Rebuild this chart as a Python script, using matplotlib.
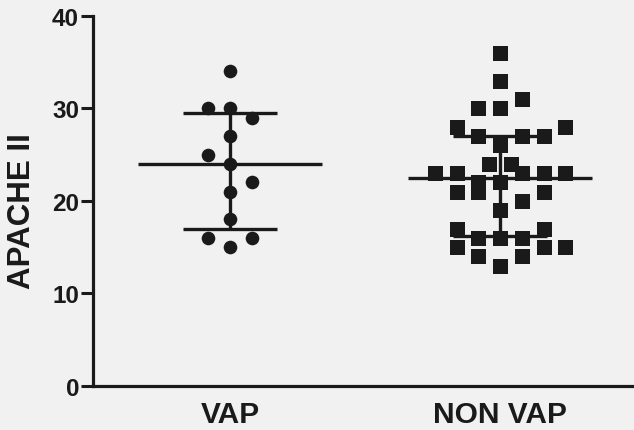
import matplotlib
matplotlib.use('Agg')
import matplotlib.pyplot as plt
import numpy as np
from matplotlib import font_manager

# values
groups = ['VAP', 'NON VAP']
vap = [34, 30, 30, 29, 27, 25, 24, 22, 21, 18, 16, 16, 15]
vap_col = [0, -1, 0, 1, 0, -1, 0, 1, 0, 0, -1, 1, 0]
nonvap = [36, 33, 31, 30, 30, 28, 28, 27, 27, 27, 26, 24, 24,
          23, 23, 23, 23, 23, 22, 22, 21, 21, 21, 20, 19, 17, 17,
          16, 16, 16, 15, 15, 15, 14, 14, 13]
nonvap_col = [0, 0, 1, -1, 0, -2, 3, -1, 1, 2, 0, -0.5, 0.5,
              -3, -2, 1, 2, 3, -1, 0, -2, -1, 2, 1, 0, -2, 2,
              -1, 0, 1, -2, 2, 3, -1, 1, 0]
yticks = [0, 10, 20, 30, 40]

names = {f.name for f in font_manager.fontManager.ttflist}
narrow = 'Liberation Sans Narrow' if 'Liberation Sans Narrow' in names else 'Liberation Sans'
wide = 'Liberation Sans'

ink = '#1a1a1a'
bg = '#f1f1f1'
step = 0.0805

fig = plt.figure(figsize=(6.34, 4.31), dpi=100, facecolor=bg)
ax = fig.add_axes([0.1467, 0.1021, 0.8533, 0.8585])
ax.set_facecolor(bg)

data = [(vap, vap_col, 'o', 9.8), (nonvap, nonvap_col, 's', 10.8)]
for i, (vals, cols, mk, ms) in enumerate(data):
    xs = i + np.array(cols) * step
    ax.plot(xs, vals, linestyle='none', marker=mk, ms=ms, color=ink,
            markeredgewidth=0, zorder=3)
    # median with interquartile range
    q1, med, q3 = np.percentile(vals, [25, 50, 75], method='weibull')
    ax.hlines(med, i - 0.34, i + 0.34, color=ink, lw=2.4, zorder=4)
    ax.hlines([q1, q3], i - 0.174, i + 0.174, color=ink, lw=2.4, zorder=4)
    ax.vlines(i, q1, q3, color=ink, lw=2.4, zorder=4)

ax.set_xlim(-0.507, 1.496)
ax.set_ylim(0, 40)
ax.set_yticks(yticks)
ax.set_yticklabels([str(t) for t in yticks], fontsize=17.5, fontweight='bold',
                   family=wide, fontstretch='normal', color=ink)
ax.set_xticks(range(len(groups)))
ax.set_xticklabels(groups, fontsize=21.5, fontweight='bold', family=narrow,
                   fontstretch='condensed', color=ink)
ax.tick_params(axis='y', length=8.5, width=2.2, pad=1.5, color=ink)
ax.tick_params(axis='x', length=0, pad=10)

for s in ['top', 'right']:
    ax.spines[s].set_visible(False)
for s in ['left', 'bottom']:
    ax.spines[s].set_linewidth(2.3)
    ax.spines[s].set_color(ink)
    ax.spines[s].set_capstyle('projecting')

ax.set_ylabel('APACHE II', fontsize=22.5, fontweight='bold', family=wide,
              fontstretch='normal', color=ink, va='center')
ax.yaxis.set_label_coords(-0.132, 0.476)

fig.savefig('out.png', dpi=100, facecolor=bg)
